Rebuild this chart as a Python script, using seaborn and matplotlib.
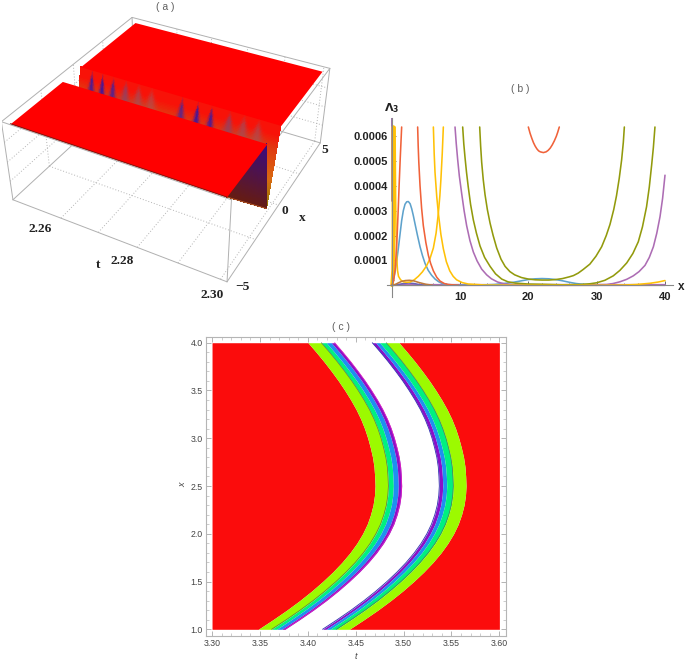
import numpy as np
import matplotlib
matplotlib.use('Agg')
import matplotlib.pyplot as plt
import seaborn as sns
from matplotlib.colors import to_rgb

sns.set_theme(style="white")
plt.rcParams['font.family'] = ['Liberation Sans', 'DejaVu Sans']
plt.rcParams['mathtext.fontset'] = 'dejavusans'

W, H = 685, 661

# panel (a)
t_box = [2.2465, 2.3015]
x_box = [-5.25, 5.25]
z_box = [0.0, 1.0]
t_plate = [2.248, 2.30]
x_plate = [-5.05, 5.05]
trough_x = [-1.3, 0.15]
trough_bottom_x = -0.7
z_plate = [0.05, 0.97]
ripple_t = [2.2515, 2.2545, 2.2575, 2.2610, 2.2645, 2.2680, 2.2760, 2.2800, 2.2835, 2.2880, 2.2915, 2.2950]
ripple_s = [0.9, 0.95, 0.85, 0.45, 0.3, 0.2, 0.8, 0.95, 0.9, 0.45, 0.3, 0.25]

# panel (b), y values in units of 1e-4
blue_x = [0, .25, .49, .75, .98, 1.22, 1.46, 1.7, 1.95, 2.2, 2.44, 2.7, 2.93, 3.17, 3.41, 3.78, 4.15, 4.5, 4.88, 5.35, 5.85, 6.35, 6.83, 7.4, 8.05, 10, 14, 15, 16, 17, 18, 19, 20, 21, 22, 23, 24, 25, 26, 27, 28, 29, 30]
blue_y = [0, .2, .55, 1.0, 1.5, 2.05, 2.6, 3.0, 3.26, 3.36, 3.37, 3.28, 3.08, 2.8, 2.48, 2.0, 1.55, 1.2, .88, .6, .4, .25, .15, .07, .03, 0, .02, .03, .06, .09, .13, .18, .23, .26, .27, .26, .23, .18, .12, .07, .04, .02, 0]
red1_x = [0, .25, .5, .75, .95, 1.1, 1.25, 1.46]
red1_y = [0, .15, .6, 1.7, 3.0, 4.1, 5.1, 6.37]
red2_x = [3.8, 3.88, 3.97, 4.15, 4.38, 4.63, 5.0, 5.37, 5.7, 6.1, 6.6, 7.07, 7.7, 8.3, 9.8]
red2_y = [6.37, 5.6, 4.95, 4.0, 3.1, 2.4, 1.72, 1.2, .88, .58, .32, .17, .07, .03, 0]
red3_x = [20.0, 20.25, 20.5, 20.75, 21, 21.25, 21.5, 21.75, 22.2, 22.6, 22.9, 23.2, 23.5, 23.8, 24.1, 24.3, 24.53]
red3_y = [6.37, 6.12, 5.92, 5.74, 5.6, 5.49, 5.41, 5.37, 5.34, 5.37, 5.43, 5.52, 5.65, 5.81, 6.0, 6.16, 6.37]
gold1_x = [.5, .53, .58, .64, .72, .85, 1.0, 1.3, 1.7, 2.2, 2.7, 3.3, 3.9, 4.5, 5.1, 5.6, 6.1, 6.5, 6.83, 7.05, 7.2, 7.4, 7.56]
gold1_y = [6.37, 5, 3.4, 2.2, 1.2, .6, .36, .22, .14, .12, .13, .22, .36, .54, .78, 1.07, 1.5, 2.1, 2.9, 3.6, 4.24, 5.3, 6.37]
gold2_x = [6.1, 6.22, 6.34, 6.6, 6.83, 7.2, 7.56, 8.0, 8.5, 9, 9.5, 10.3, 11.2, 13.7, 20, 30, 33.9, 35.8, 37, 37.8, 39, 40]
gold2_y = [6.37, 5.3, 4.55, 3.55, 2.9, 2.05, 1.47, .95, .58, .36, .22, .11, .05, .01, 0, 0, .01, .03, .06, .08, .13, .19]
gold3_x = [.25, .25, .2, .05]
gold3_y = [6.37, 2.0, .6, 0]
purple1_x = [9.27, 9.45, 9.66, 9.9, 10.24, 10.6, 10.97, 11.45, 11.95, 12.5, 13.17, 13.9, 14.6, 15.5, 16.6, 18, 20, 25, 31.46, 32.4, 33.4, 34.4, 35.36, 36.2, 37.07, 37.7, 38.3, 38.8, 39.27, 39.65, 40]
purple1_y = [6.37, 5.7, 5.05, 4.4, 3.7, 3.0, 2.4, 1.8, 1.34, .98, .65, .42, .26, .13, .05, .02, .01, 0, .03, .07, .14, .24, .38, .55, .8, 1.12, 1.55, 2.1, 2.76, 3.5, 4.43]
purple2_x = [.02, .02]
purple2_y = [3.4, 6.72]
olive1_x = [12.88, 13.02, 13.17, 13.4, 13.66, 14, 14.4, 14.85, 15.37, 16, 16.6, 17.3, 18, 19, 20, 21, 22, 23, 24, 25, 26, 26.6, 27.3, 28, 29, 29.9, 30.73, 31.4, 31.95, 32.5, 32.9, 33.3, 33.65, 33.9, 34.05]
olive1_y = [6.37, 5.6, 4.95, 4.25, 3.65, 3.05, 2.5, 2.0, 1.5, 1.05, .76, .55, .42, .31, .25, .22, .21, .21, .23, .27, .34, .39, .49, .63, .85, 1.17, 1.55, 2.0, 2.45, 3.05, 3.6, 4.3, 5.04, 5.75, 6.37]
olive2_x = [10.39, 10.55, 10.73, 10.95, 11.2, 11.55, 11.95, 12.4, 12.93, 13.6, 14.4, 15.2, 16.1, 17, 18, 20, 22, 25, 27.6, 29, 30, 31.2, 32.43, 33.4, 34.4, 35.3, 36.09, 36.7, 37.3, 37.7, 38.05, 38.3, 38.53]
olive2_y = [6.37, 5.7, 5.15, 4.55, 3.97, 3.25, 2.63, 2.1, 1.58, 1.12, .76, .46, .25, .14, .09, .05, .04, .02, .03, .06, .1, .2, .38, .6, .9, 1.28, 1.75, 2.35, 3.16, 3.95, 4.85, 5.55, 6.37]
brown_x = [0, .5, 1, 1.5, 2, 2.6, 3.2, 4, 5, 6]
brown_y = [0, .03, .1, .16, .19, .2, .18, .11, .04, 0]
navy_x = [.3, 1, 1.7, 2.5, 3.3, 4, 4.8]
navy_y = [0, .03, .07, .09, .07, .03, 0]
base_x = [0, 40]
base_y = [0, 0]

# panel (c), left edge of the first band, t against x
ridge_x = [1.0, 1.1, 1.2, 1.3, 1.4, 1.5, 1.6, 1.7, 1.8, 1.9, 2.0, 2.1, 2.2, 2.3, 2.4, 2.5, 2.6, 2.7, 2.8, 2.9, 3.0, 3.1, 3.2, 3.3, 3.4, 3.5, 3.6, 3.7, 3.8, 3.9, 4.0]
ridge_t = [3.3483, 3.3635, 3.3780, 3.3915, 3.4040, 3.4155, 3.4261, 3.4356, 3.4440, 3.4512, 3.4572, 3.4620, 3.4655, 3.4681, 3.4696, 3.4702, 3.4698, 3.4691, 3.4676, 3.4653, 3.4626, 3.4593, 3.4553, 3.4505, 3.4449, 3.4387, 3.4320, 3.4247, 3.4170, 3.4088, 3.4002]
band_offsets = [0, .0139, .0191, .0243, .0278]
band_offsets_right = [.0671, .0707, .0749, .0817, .0950]
band_colors = ['#9CFA00', '#00F080', '#1E90F0', '#8A10C8']
band_colors_right = ['#8A10C8', '#1E90F0', '#00F080', '#9CFA00']


def fig_text(px, py, s, **kw):
    return fig.text(px / W, 1 - py / H, s, ha=kw.pop('ha', 'center'), va=kw.pop('va', 'center'), **kw)


def ax_rect(left, top, right, bottom):
    return [left / W, 1 - bottom / H, (right - left) / W, (bottom - top) / H]


def blend(a, b, w):
    a, b = np.array(to_rgb(a)), np.array(to_rgb(b))
    return a * (1 - w[..., None]) + b * w[..., None]


fig = plt.figure(figsize=(6.85, 6.61), dpi=100)

# ---- panel (a)
ax = fig.add_axes([0.0033, 0.5393, 0.4872, 0.5049], projection='3d', computed_zorder=False)
ax.set_axis_off()
ax.set_xlim(t_box)
ax.set_ylim(x_box)
ax.set_zlim(z_box)
ax.set_box_aspect((1, 1.005, 0.401))
ax.view_init(35.457, -61.562)
ax.set_proj_type('persp', focal_length=0.454)

GRID = '#b4b4b4'
DOT = (0, (1, 2))
for tv in [2.26, 2.27, 2.28, 2.29, 2.30]:
    ax.plot([tv, tv], x_box, [0, 0], color=GRID, lw=.7, ls=DOT, zorder=1)
    ax.plot([tv, tv], [x_box[1], x_box[1]], z_box, color=GRID, lw=.7, ls=DOT, zorder=1)
for xv in [-2.5, 0, 2.5]:
    ax.plot(t_box, [xv, xv], [0, 0], color=GRID, lw=.7, ls=DOT, zorder=1)
    ax.plot([t_box[0], t_box[0]], [xv, xv], z_box, color=GRID, lw=.7, ls=DOT, zorder=1)
for zv in [.25, .5, .75]:
    ax.plot([t_box[0], t_box[0]], x_box, [zv, zv], color=GRID, lw=.7, ls=DOT, zorder=1)
    ax.plot(t_box, [x_box[1], x_box[1]], [zv, zv], color=GRID, lw=.7, ls=DOT, zorder=1)
EDGE = '#b0b0b0'
t0, t1 = t_box
x0, x1 = x_box
for seg in [([t0, t1], [x0, x0], [0, 0]), ([t1, t1], [x0, x1], [0, 0]), ([t0, t1], [x1, x1], [0, 0]), ([t0, t0], [x0, x1], [0, 0]),
            ([t0, t1], [x0, x0], [1, 1]), ([t1, t1], [x0, x1], [1, 1]), ([t0, t1], [x1, x1], [1, 1]), ([t0, t0], [x0, x1], [1, 1]),
            ([t0, t0], [x0, x0], [0, 1]), ([t1, t1], [x0, x0], [0, 1]), ([t1, t1], [x1, x1], [0, 1]), ([t0, t0], [x1, x1], [0, 1])]:
    ax.plot(*seg, color=EDGE, lw=.7, zorder=1.5)


def wall(t_lo, t_hi, h_lo, h_hi, nt, nh):
    TW, HW = np.meshgrid(np.linspace(t_lo, t_hi, nt), np.linspace(h_lo, h_hi, nh))
    XW = trough_bottom_x + (trough_x[1] - trough_bottom_x) * HW
    ZW = z_plate[0] + (z_plate[1] - z_plate[0]) * HW
    col = np.zeros(TW.shape + (3,))
    stops = [to_rgb(c_) for c_ in ['#8a7a00', '#d86a10', '#e03a10', '#f81208']]
    for k in range(3):
        col[..., k] = np.interp(HW, [0, .35, .72, .88], [s_[k] for s_ in stops])
    for rt, rs in zip(ripple_t, ripple_s):
        wid = 1.3 * (0.0006 + 0.0008 * (1 - rs)) * np.clip((1.02 - HW) / .28, 0.02, 1)
        w = (0.35 + 0.65 * rs) * np.exp(-((TW - rt) / wid) ** 2) * np.clip((1.0 - HW) / .12, 0, 1)
        tint = np.array(to_rgb('#40109a')) * rs + np.array(to_rgb('#a87860')) * (1 - rs)
        col = col * (1 - w[..., None]) + tint * w[..., None]
    ax.plot_surface(TW, XW, ZW, facecolors=col, rstride=1, cstride=1, shade=False, linewidth=0, antialiased=False, zorder=3)


# trough wall: upper part along all of t, lower part only by the last t
wall(t_plate[0], t_plate[1], .3, 1, 300, 40)
wall(2.2985, t_plate[1], 0, .3, 8, 20)

RED = '#ff0000'
tp, xp = np.meshgrid(t_plate, [trough_x[1], x_plate[1]])
ax.plot_surface(tp, xp, np.full(tp.shape, z_plate[1]), color=RED, shade=False, linewidth=0, antialiased=True, zorder=4)

# dark triangle closing the front plate at the last t
su, sv = np.meshgrid(np.linspace(0, 1, 30), np.linspace(0, 1, 30))
xt = x_plate[0] + (trough_x[0] - x_plate[0]) * su + (trough_bottom_x - trough_x[0]) * su * sv
zt = z_plate[1] - (z_plate[1] - z_plate[0]) * sv * su
ct = blend('#380a84', '#661c10', 1 - su * (1 - sv))
ax.plot_surface(np.full(su.shape, t_plate[1]), xt, zt, facecolors=ct, rstride=1, cstride=1, shade=False, linewidth=0, antialiased=False, zorder=5)
ax.plot([t_plate[1], t_plate[1]], [x_plate[0], trough_bottom_x], [z_plate[1], z_plate[0]], color='#c06028', lw=.6, zorder=5.5)

tp, xp = np.meshgrid(t_plate, [x_plate[0], trough_x[0]])
ax.plot_surface(tp, xp, np.full(tp.shape, z_plate[1]), color=RED, shade=False, linewidth=0, antialiased=True, zorder=6)
ax.plot(t_plate, [x_plate[0], x_plate[0]], [z_plate[1], z_plate[1]], color='#701810', lw=.6, zorder=7)

SERIF = dict(family='Liberation Serif', fontweight='bold', fontsize=9.6, color='#222222')
fig_text(40, 229, '2.26', **SERIF)
fig_text(121.7, 260.7, '2.28', **SERIF)
fig_text(212.3, 295, '2.30', **SERIF)
fig_text(98, 265, 't', **SERIF)
fig_text(302, 218, 'x', **SERIF)
fig_text(285, 211, '0', **SERIF)
fig_text(325, 150, '5', **SERIF)
fig_text(242.7, 286.7, '\u22125', **SERIF)
TITLE = dict(fontsize=7.5, color='#606060')
fig_text(165.7, 7.3, '( a )', **TITLE)

# ---- panel (b)
ax_b = fig.add_axes(ax_rect(386.9, 118.3, 673.2, 296.7))
ax_b.patch.set_alpha(0)
ax_b.set_xlim(-0.7, 41.2)
ax_b.set_ylim(-0.46, 6.72)
BLUE, REDL, GOLD, PURP, OLIVE = '#5EA2CC', '#F0623A', '#FFC107', '#AD6DB4', '#929A0C'
curves = [
    (base_x, base_y, PURP, 1.6), (purple2_x, purple2_y, '#8A5AA0', 1.2), (navy_x, navy_y, '#6A62B8', 1.1), (blue_x, blue_y, BLUE, 1.15),
    (purple1_x, purple1_y, PURP, 1.15), (olive1_x, olive1_y, OLIVE, 1.15), (olive2_x, olive2_y, OLIVE, 1.15),
    (gold3_x, gold3_y, GOLD, 2.6), (gold1_x, gold1_y, GOLD, 1.15), (gold2_x, gold2_y, GOLD, 1.15),
    (red1_x, red1_y, REDL, 1.15), (red2_x, red2_y, REDL, 1.15), (red3_x, red3_y, REDL, 1.15),
    (brown_x, brown_y, '#C07A3C', 1.15),
]
for xs, ys, c_, lw_ in curves:
    sns.lineplot(x=xs, y=ys, color=c_, lw=lw_, estimator=None, sort=False, ax=ax_b, solid_joinstyle='round')
for side in ['top', 'right']:
    ax_b.spines[side].set_visible(False)
for side in ['left', 'bottom']:
    ax_b.spines[side].set_position(('data', 0))
    ax_b.spines[side].set_color('#888888')
    ax_b.spines[side].set_linewidth(.8)
ax_b.set_xticks([10, 20, 30, 40])
ax_b.set_xticks(np.arange(2, 41, 2), minor=True)
ax_b.set_yticks([1, 2, 3, 4, 5, 6])
ax_b.set_yticklabels(['0.0001', '0.0002', '0.0003', '0.0004', '0.0005', '0.0006'])
ax_b.set_yticks(np.arange(.2, 6.5, .2), minor=True)
ax_b.tick_params(which='major', direction='in', length=3, width=.6, color='#555555', labelsize=8, pad=2.5, left=True, bottom=True)
ax_b.tick_params(which='minor', direction='in', length=1.5, width=.5, color='#555555', left=True, bottom=True)
for lab in ax_b.get_xticklabels() + ax_b.get_yticklabels():
    lab.set_fontweight('bold')
    lab.set_color('#222222')
ax_b.tick_params(axis='x', pad=4.5)
fig_text(681, 286.7, 'x', fontsize=8.5, fontweight='bold', color='#222222')
fig_text(391.7, 108.3, r'$\mathbf{\Lambda_3}$', fontsize=8, color='#222222')
fig_text(520, 89.3, '( b )', **TITLE)

# ---- panel (c)
ax_c = fig.add_axes(ax_rect(206, 336.7, 505.7, 635.7))
ax_c.set_xlim(3.2937, 3.6066)
ax_c.set_ylim(0.933, 4.063)
ridge = np.array(ridge_t)
y_c = np.array(ridge_x)
REDC = '#FB0C0C'
ax_c.fill_betweenx(y_c, 3.30, ridge, color=REDC, lw=0)
ax_c.fill_betweenx(y_c, ridge + band_offsets_right[-1], 3.60, color=REDC, lw=0)
for i, c_ in enumerate(band_colors):
    ax_c.fill_betweenx(y_c, ridge + band_offsets[i], ridge + band_offsets[i + 1], color=c_, lw=0)
for i, c_ in enumerate(band_colors_right):
    ax_c.fill_betweenx(y_c, ridge + band_offsets_right[i], ridge + band_offsets_right[i + 1], color=c_, lw=0)
for off in [band_offsets[1], band_offsets_right[3]]:
    sns.lineplot(x=ridge + off, y=y_c, color='#5a7a50', lw=.5, estimator=None, sort=False, orient='y', ax=ax_c)
for off, c_ in [(band_offsets[4], '#E020C0'), (band_offsets_right[0], '#3030B0')]:
    sns.lineplot(x=ridge + off, y=y_c, color=c_, lw=.6, estimator=None, sort=False, orient='y', ax=ax_c)
for sp in ax_c.spines.values():
    sp.set_color('#b5b5b5')
    sp.set_linewidth(.8)
ax_c.set_xticks(np.arange(3.30, 3.601, .05))
ax_c.set_xticklabels(['3.30', '3.35', '3.40', '3.45', '3.50', '3.55', '3.60'])
ax_c.set_xticks(np.arange(3.30, 3.601, .01), minor=True)
ax_c.set_yticks([1, 1.5, 2, 2.5, 3, 3.5, 4])
ax_c.set_yticklabels(['1.0', '1.5', '2.0', '2.5', '3.0', '3.5', '4.0'])
ax_c.set_yticks(np.arange(1, 4.01, .1), minor=True)
ax_c.tick_params(which='major', direction='in', length=3.5, width=.6, color='#a8a8a8', labelcolor='#444444', labelsize=6.3, pad=2.5,
                 top=True, right=True, bottom=True, left=True)
ax_c.tick_params(which='minor', direction='in', length=2, width=.5, color='#b8b8b8', top=True, right=True, bottom=True, left=True)
fig_text(355.7, 656.7, 't', fontsize=6.5, style='italic', color='#444444')
fig_text(182.7, 485, 'x', fontsize=6.5, style='italic', color='#444444', rotation=90)
fig_text(341, 326.7, '( c )', **TITLE)

fig.savefig('out.png', dpi=100)
